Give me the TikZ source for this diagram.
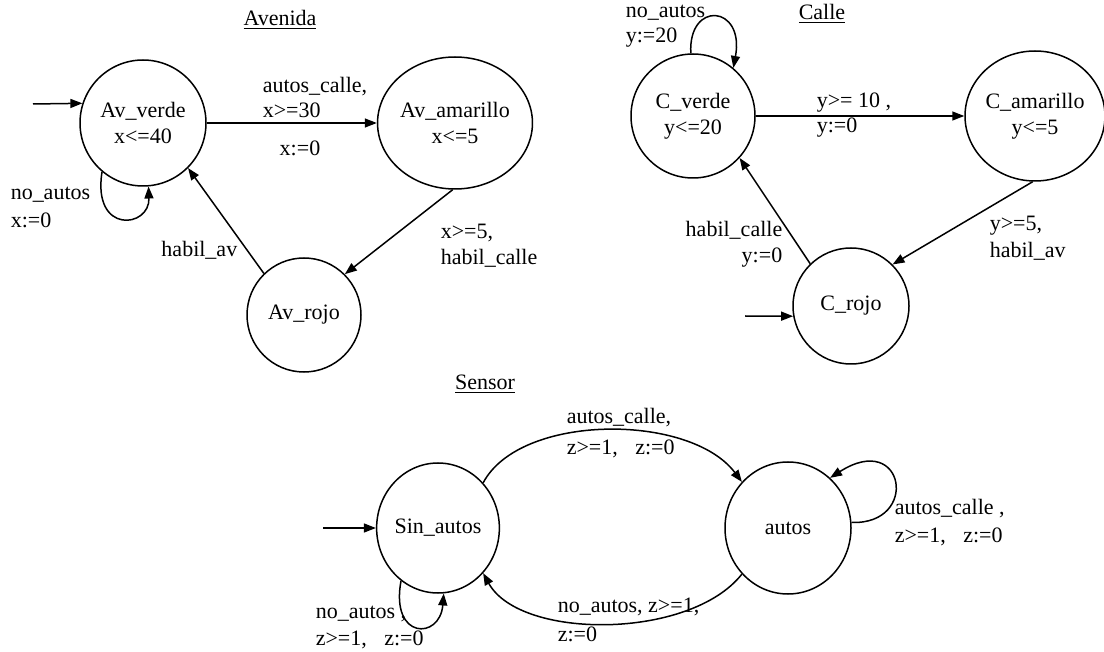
\documentclass[tikz,border=0pt]{standalone}
\usepackage{fontspec}
\setmainfont{Liberation Serif}
\usetikzlibrary{shapes.geometric,arrows.meta}
\begin{document}
\begin{tikzpicture}[x=0.5pt,y=-0.5pt,
  font=\fontsize{11}{13}\selectfont,
  line width=0.75pt,
  state/.style={ellipse,draw,inner sep=0pt,align=center},
  lbl/.style={inner sep=0pt,anchor=west,align=left},
  rlbl/.style={inner sep=0pt,anchor=east,align=right},
  edge/.style={-{Triangle[length=6pt,width=4.5pt]}},
  title/.style={inner sep=0pt}]
\useasboundingbox (0,0) rectangle (1104,652);

% ---------------- Avenida ----------------
\node[title] (tav) at (280,20) {\underline{Avenida}};
\node[state,minimum width=63pt,minimum height=63pt] (avv) at (143,123) {Av\_verde\\x<=40};
\node[state,minimum width=63pt,minimum height=66pt] (ava) at (455,123) {Av\_amarillo\\x<=5};
\node[state,minimum width=57pt,minimum height=57pt] (avr) at (304,315) {Av\_rojo};

\coordinate (avin) at (33,104);
\draw[edge] (avin) -- (avv.162);
\draw[edge] (avv.east) -- (ava.west);
\draw[edge] (ava.-92) -- (avr.45);
\draw[edge] (avr.134) -- (avv.-45);
\draw[edge] (avv.230) .. controls (92,235) and (150,228) .. (avv.-85);

\node[lbl] (l1) at (262,87) {autos\_calle,};
\node[lbl] (l2) at (262,110) {x>=30};
\node[inner sep=0pt] (l3) at (300,148) {x:=0};
\node[lbl] (l4) at (440,233) {x>=5,};
\node[lbl] (l5) at (440,258) {habil\_calle};
\node[rlbl] (l6) at (238,250) {habil\_av};
\node[lbl] (l7) at (10,195) {no\_autos};
\node[lbl] (l8) at (10,220) {x:=0};

% ---------------- Calle ----------------
\node[title] (tc) at (822,14) {\underline{Calle}};
\node[state,minimum width=62pt,minimum height=62pt] (cv) at (693,116) {C\_verde\\y<=20};
\node[state,minimum width=65pt,minimum height=65pt] (cam) at (1035,116) {C\_amarillo\\y<=5};
\node[state,minimum width=58pt,minimum height=58pt] (cr) at (851,306) {C\_rojo};

\coordinate (crin) at (745,316);
\draw[edge] (crin) -- (cr.190);
\draw[edge] (cv.east) -- (cam.west);
\draw[edge] (cam.-92) -- (cr.45);
\draw[edge] (cr.134) -- (cv.-42);
\draw[edge] (cv.92) .. controls (688,0) and (745,5) .. (cv.50);

\node[lbl] (m1) at (816,103) {y>= 10 ,};
\node[lbl] (m2) at (816,128) {y:=0};
\node[lbl] (m3) at (989,226) {y>=5,};
\node[lbl] (m4) at (989,251) {habil\_av};
\node[rlbl] (m5) at (783,230) {habil\_calle};
\node[rlbl] (m6) at (783,258) {y:=0};
\node[lbl] (m7) at (625,13) {no\_autos};
\node[lbl] (m8) at (625,38) {y:=20};

% ---------------- Sensor ----------------
\node[title] (ts) at (485,384) {\underline{Sensor}};
\node[state,minimum width=58pt,minimum height=65pt] (sa) at (438,528) {Sin\_autos};
\node[state,minimum width=63pt,minimum height=66pt] (au) at (788,528) {autos};

\coordinate (sain) at (323,528);
\draw[edge] (sain) -- (sa.west);
\draw[edge] (sa.45) .. controls (520,413) and (690,413) .. (au.135);
\draw[edge] (au.-135) .. controls (690,640) and (520,640) .. (sa.-45);
\draw[edge] (sa.235) .. controls (390,640) and (440,640) .. (sa.-85);
\draw[edge] (au.5) .. controls (920,525) and (905,430) .. (au.50);

\node[lbl] (n1) at (566,418) {autos\_calle,};
\node[lbl] (n2) at (566,449) {z>=1,\hspace{6pt} z:=0};
\node[lbl] (n3) at (557,607) {no\_autos, z>=1,};
\node[lbl] (n4) at (557,634) {z:=0};
\node[lbl] (n5) at (315,614) {no\_autos ,};
\node[lbl] (n6) at (315,640) {z>=1,\hspace{6pt} z:=0};
\node[lbl] (n7) at (894,509) {autos\_calle ,};
\node[lbl] (n8) at (894,537) {z>=1,\hspace{6pt} z:=0};
\end{tikzpicture}
\end{document}
